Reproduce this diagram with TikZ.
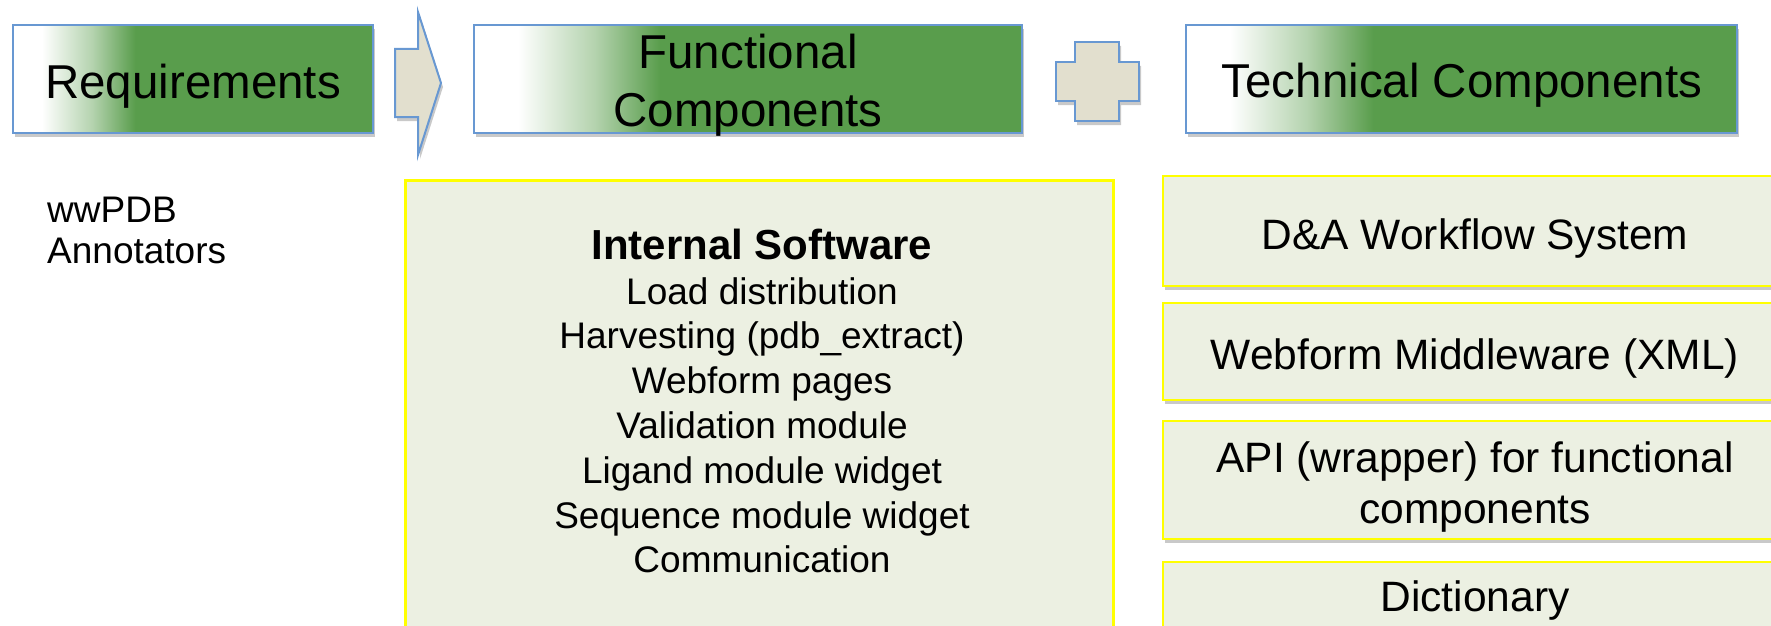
\documentclass[tikz,border=0pt]{standalone}
\usepackage{fontspec}
\setmainfont{Liberation Sans}
\usetikzlibrary{shadows}
\definecolor{hgreen}{RGB}{89,157,76}
\colorlet{lgreen}{hgreen!45!white}
\definecolor{hblue}{RGB}{104,152,210}
\definecolor{sand}{RGB}{226,223,206}
\definecolor{pale}{RGB}{236,240,226}
\definecolor{yel}{RGB}{255,255,0}
\pgfdeclarehorizontalshading{hdrshade}{100bp}{color(0bp)=(white); color(29bp)=(white); color(36bp)=(lgreen); color(42bp)=(hgreen); color(100bp)=(hgreen)}
\begin{document}
\begin{tikzpicture}[x=1pt,y=-1pt,
  shad/.style={drop shadow={shadow xshift=2pt, shadow yshift=-4pt, opacity=0.3, fill=black!70}},
  hdr/.style={draw=hblue, line width=2pt, shade, shading=hdrshade, inner sep=0pt, shad},
  htext/.style={inner sep=0pt, align=center, font=\fontsize{47.5}{58.5}\selectfont},
  ybox/.style={draw=yel, line width=2.5pt, fill=pale, inner sep=0pt, shad},
  rtext/.style={inner sep=0pt, align=center, font=\fontsize{42.5}{51}\selectfont},
  blockshape/.style={draw=hblue, line width=2pt, fill=sand, shad}]
\useasboundingbox (0,0) rectangle (1771,626);
\clip (0,0) rectangle (1771,626);
% header boxes
\node[hdr, minimum width=360pt, minimum height=108pt] (req) at (193,79) {};
\node[htext] (reqt) at (193,86) {Requirements};
\node[hdr, minimum width=548pt, minimum height=108pt] (func) at (748,79) {};
\node[htext] (funct) at (748,85) {Functional\\Components};
\node[hdr, minimum width=551pt, minimum height=108pt] (tech) at (1461.5,79) {};
\node[htext] (techt) at (1462,85) {Technical Components};
% block arrow and plus
\draw[blockshape] (395,49) -- (418,49) -- (418,12) -- (441,83) -- (418,155) -- (418,117) -- (395,117) -- cycle;
\draw[blockshape] (1075,42) -- (1119,42) -- (1119,62) -- (1139,62) -- (1139,101) -- (1119,101) -- (1119,121) -- (1075,121) -- (1075,101) -- (1056,101) -- (1056,62) -- (1075,62) -- cycle;
% left label
\node[inner sep=0pt, anchor=north west, align=left, font=\fontsize{37}{41}\selectfont] (who) at (47,196.5) {wwPDB\\Annotators};
% internal software box
\node[ybox, minimum width=708pt, minimum height=450pt, line width=3pt] (intsw) at (759,405) {};
\node[inner sep=0pt, align=center, font=\fontsize{37}{44.8}\selectfont] (intlist) at (762,401)
  {{\fontsize{42}{44.8}\selectfont\bfseries Internal Software}\\Load distribution\\Harvesting (pdb\_extract)\\Webform pages\\Validation module\\Ligand module widget\\Sequence module widget\\Communication};
% technical component boxes
\node[ybox, minimum width=624pt, minimum height=110pt] (wf) at (1475,231) {};
\node[rtext] (wft) at (1475,239) {D\&A Workflow System};
\node[ybox, minimum width=624pt, minimum height=97pt] (mw) at (1475,351.5) {};
\node[rtext] (mwt) at (1475,358) {Webform Middleware (XML)};
\node[ybox, minimum width=624pt, minimum height=118pt] (api) at (1475,480) {};
\node[rtext] (apit) at (1475,487) {API (wrapper) for functional\\components};
\node[ybox, minimum width=624pt, minimum height=68pt] (dict) at (1475,596) {};
\node[rtext] (dictt) at (1475,601) {Dictionary};
\end{tikzpicture}
\end{document}
